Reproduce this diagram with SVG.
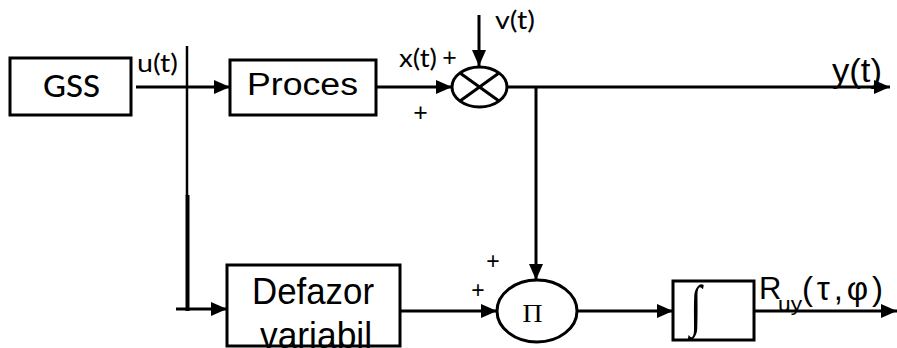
<svg xmlns="http://www.w3.org/2000/svg" width="897" height="348" viewBox="0 0 897 348">
<defs>
<style>
.box{fill:none;stroke:#000;stroke-width:3}
.ln{fill:none;stroke:#000;stroke-width:3}
.cal{font-family:Lato,"Open Sans",sans-serif;fill:#000}
.ar{font-family:"Liberation Sans",Arial,sans-serif;fill:#000}
.sr{font-family:"Liberation Serif","Times New Roman",serif;fill:#000}
</style>
<marker id="ah" viewBox="0 0 16 14" refX="16" refY="7" markerWidth="16" markerHeight="14" markerUnits="userSpaceOnUse" orient="auto">
<path d="M0,0 L16,7 L0,14 z" fill="#000"/>
</marker>
</defs>
<rect width="897" height="348" fill="#fff"/>

<g id="connectors">
<line class="ln" x1="136" y1="87" x2="230" y2="87" marker-end="url(#ah)"/>
<line x1="187" y1="46" x2="187" y2="196" stroke="#000" stroke-width="2.5"/>
<line x1="187.5" y1="195" x2="187.5" y2="311" stroke="#000" stroke-width="4"/>
<line class="ln" x1="176" y1="309" x2="227" y2="309" marker-end="url(#ah)"/>
<line class="ln" x1="376" y1="87" x2="452" y2="87" marker-end="url(#ah)"/>
<line class="ln" x1="479" y1="15" x2="479" y2="66" marker-end="url(#ah)"/>
<line class="ln" x1="507" y1="87" x2="890" y2="87" marker-end="url(#ah)"/>
<line class="ln" x1="536" y1="87" x2="536" y2="280" marker-end="url(#ah)"/>
<line class="ln" x1="400" y1="311" x2="497" y2="311" marker-end="url(#ah)"/>
<line class="ln" x1="577" y1="311" x2="673" y2="311" marker-end="url(#ah)"/>
<line class="ln" x1="754" y1="311" x2="897" y2="311" marker-end="url(#ah)"/>
</g>

<g id="gss">
<rect class="box" x="10" y="58" width="121" height="57"/>
<text class="cal" x="71.5" y="97" font-size="31" font-weight="500" text-anchor="middle" textLength="57" lengthAdjust="spacingAndGlyphs">GSS</text>
</g>

<g id="proces">
<rect class="box" x="230" y="60" width="146" height="55"/>
<text class="ar" x="247" y="95" font-size="31" textLength="111" lengthAdjust="spacingAndGlyphs">Proces</text>
</g>

<g id="sum">
<ellipse class="box" cx="479.5" cy="87" rx="27.5" ry="20"/>
<line class="ln" x1="460" y1="73" x2="499" y2="101"/>
<line class="ln" x1="460" y1="101" x2="499" y2="73"/>
</g>

<g id="defazor">
<text class="ar" x="252" y="304" font-size="37" textLength="122" lengthAdjust="spacingAndGlyphs">Defazor</text>
<text class="ar" x="260" y="348" font-size="36" textLength="112" lengthAdjust="spacingAndGlyphs">variabil</text>
<rect class="box" x="227" y="265" width="173" height="81"/>
</g>

<g id="product">
<ellipse class="box" cx="537" cy="311" rx="40" ry="31"/>
<text class="sr" x="532.5" y="321.5" font-size="26" text-anchor="middle" textLength="20" lengthAdjust="spacingAndGlyphs">Π</text>
</g>

<g id="integrator">
<rect class="box" x="673" y="281" width="81" height="59"/>
<text class="sr" x="690" y="325" font-size="42" transform="translate(690 325) scale(1 1.35) translate(-690 -325)">∫</text>
</g>

<g id="labels">
<text class="cal" x="137" y="72" font-size="25" textLength="41" lengthAdjust="spacingAndGlyphs">u(t)</text>
<text class="cal" x="399" y="67" font-size="25" textLength="38" lengthAdjust="spacingAndGlyphs">x(t)</text>
<text class="cal" x="449.5" y="66" font-size="25" text-anchor="middle">+</text>
<text class="cal" x="420.5" y="121" font-size="25" text-anchor="middle">+</text>
<text class="cal" x="495" y="29" font-size="25" textLength="40" lengthAdjust="spacingAndGlyphs">v(t)</text>
<text class="ar" x="832" y="82" font-size="33" textLength="50" lengthAdjust="spacingAndGlyphs">y(t)</text>
<text class="ar" x="493" y="269" font-size="23" text-anchor="middle">+</text>
<text class="ar" x="478" y="298" font-size="23" text-anchor="middle">+</text>
<g id="ruy-label">
<text class="ar" x="759" y="299" font-size="31">R</text>
<text class="ar" x="778" y="311" font-size="20" textLength="24" lengthAdjust="spacingAndGlyphs">uy</text>
<text class="ar" x="802" y="300" font-size="33" textLength="81" lengthAdjust="spacing">(τ,φ)</text>
</g>
</g>
</svg>
